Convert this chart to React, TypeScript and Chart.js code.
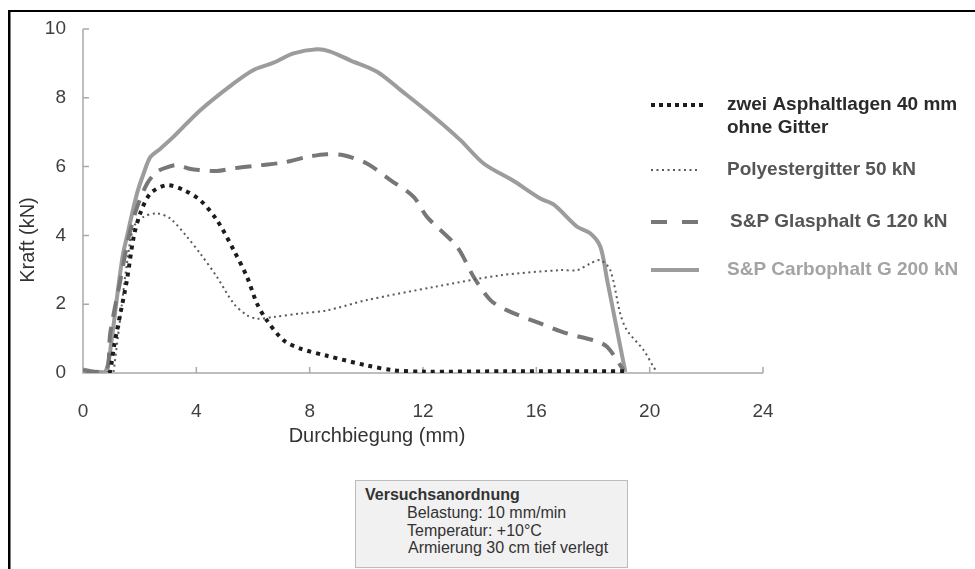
import React, { useEffect, useRef } from "react";
import { Chart, registerables } from "chart.js";

Chart.register(...registerables);

// ---- data ----
const asphaltX = [0.9, 0.96, 1.1, 1.32, 1.55, 1.79, 2.02, 2.38, 2.96, 3.55, 4.14, 4.73, 5.32, 5.79, 6.14, 6.49, 7.08, 7.67, 8.61, 10.02, 10.96, 12.0, 15.0, 19.1];
const asphaltY = [0.0, 0.05, 0.8, 1.73, 2.7, 3.96, 4.64, 5.22, 5.46, 5.32, 5.02, 4.44, 3.57, 2.79, 2.02, 1.53, 0.95, 0.71, 0.5, 0.22, 0.08, 0.04, 0.05, 0.05];

const polyX = [1.08, 1.3, 1.55, 1.79, 2.14, 2.61, 3.08, 3.67, 4.14, 4.73, 5.32, 5.79, 6.14, 6.73, 7.67, 8.61, 10.02, 12.38, 14.73, 16.85, 17.44, 17.9, 18.26, 18.61, 18.96, 19.2, 19.79, 20.14, 20.24];
const polyY = [0.03, 1.5, 3.18, 4.25, 4.54, 4.64, 4.49, 3.96, 3.47, 2.79, 2.02, 1.68, 1.58, 1.63, 1.73, 1.82, 2.12, 2.5, 2.84, 2.99, 2.99, 3.18, 3.28, 2.99, 1.73, 1.24, 0.66, 0.17, 0.06];

const glasX = [0, 0.5, 0.85, 0.96, 1.32, 1.6, 1.9, 2.26, 2.61, 2.96, 3.32, 3.8, 4.14, 4.73, 5.32, 6.26, 7.08, 7.91, 8.6, 9.2, 10.02, 10.85, 11.67, 12.14, 13.2, 13.79, 14.38, 14.97, 16.14, 17.08, 18.02, 18.5, 19.08];
const glasY = [0.08, 0.03, 0.1, 1.15, 2.7, 3.9, 4.8, 5.5, 5.85, 5.98, 6.04, 5.93, 5.9, 5.87, 5.95, 6.04, 6.12, 6.28, 6.36, 6.33, 6.09, 5.61, 5.12, 4.54, 3.67, 2.79, 2.12, 1.82, 1.44, 1.15, 0.95, 0.76, 0.08];

const carboX = [0, 0.4, 0.8, 1.0, 1.2, 1.4, 1.55, 1.9, 2.14, 2.38, 2.7, 3.2, 4.14, 5.32, 6.02, 6.73, 7.43, 8.26, 8.7, 9.43, 10.38, 11.2, 12.38, 13.32, 14.14, 15.2, 16.14, 16.61, 17.44, 17.9, 18.26, 18.5, 18.85, 19.14];
const carboY = [0.1, 0.04, 0.05, 0.9, 2.2, 3.4, 3.96, 5.2, 5.8, 6.28, 6.5, 6.87, 7.64, 8.42, 8.81, 9.02, 9.29, 9.41, 9.35, 9.09, 8.76, 8.23, 7.45, 6.77, 6.09, 5.58, 5.07, 4.9, 4.25, 4.06, 3.67, 2.7, 1.24, 0.03];

const xTicks = [0, 4, 8, 12, 16, 20, 24];
const yTicks = [0, 2, 4, 6, 8, 10];
const xTitle = "Durchbiegung (mm)";
const yTitle = "Kraft (kN)";
const legendLabels = [["zwei Asphaltlagen 40 mm", "ohne Gitter"], ["Polyestergitter 50 kN"], ["S&P Glasphalt G 120 kN"], ["S&P Carbophalt G 200 kN"]];
const boxTitle = "Versuchsanordnung";
const boxLines = ["Belastung: 10 mm/min", "Temperatur: +10°C", "Armierung 30 cm tief verlegt"];

const FONT = '"Liberation Sans", Arial, sans-serif';

function pts(xs: number[], ys: number[]) {
  return xs.map((x, i) => ({ x, y: ys[i] }));
}

const decor = {
  id: "decor",
  beforeDraw(chart: any) {
    const { ctx, width, height } = chart;
    ctx.save();
    ctx.fillStyle = "#ffffff";
    ctx.fillRect(0, 0, width, height);
    ctx.restore();
  },
  beforeDatasetsDraw(chart: any) {
    const { ctx, scales } = chart;
    const x = scales.x, y = scales.y;
    const x0 = x.getPixelForValue(0);
    const y0 = y.getPixelForValue(0);
    const xr = x.getPixelForValue(24);
    const yt = y.getPixelForValue(10);
    ctx.save();
    ctx.strokeStyle = "#a9a9a9";
    ctx.lineWidth = 1.5;
    ctx.beginPath();
    ctx.moveTo(x0, yt);
    ctx.lineTo(x0, y0);
    ctx.lineTo(xr, y0);
    ctx.stroke();
    ctx.beginPath();
    xTicks.forEach((v) => {
      if (v === 0) return;
      const px = x.getPixelForValue(v);
      ctx.moveTo(px, y0);
      ctx.lineTo(px, y0 - 6);
    });
    yTicks.forEach((v) => {
      if (v === 0) return;
      const py = y.getPixelForValue(v);
      ctx.moveTo(x0, py);
      ctx.lineTo(x0 + 6, py);
    });
    ctx.stroke();
    ctx.restore();
  },
  afterDraw(chart: any) {
    const { ctx, width, height } = chart;
    ctx.save();
    // frame
    ctx.fillStyle = "#000";
    ctx.fillRect(8, 10, width - 8, 2);
    ctx.fillRect(8, 10, 2.5, height - 10);
    // axis titles
    ctx.fillStyle = "#333";
    ctx.font = `20px ${FONT}`;
    ctx.textAlign = "center";
    ctx.textBaseline = "middle";
    ctx.fillText(xTitle, 377, 436);
    ctx.save();
    ctx.translate(28, 240);
    ctx.rotate(-Math.PI / 2);
    ctx.fillText(yTitle, 0, 0);
    ctx.restore();
    // legend
    const rows = [105, 170, 222, 270];
    const textX = [727, 727, 730, 727];
    const colors = ["#2a2a2a", "#555555", "#555555", "#a3a3a3"];
    ctx.font = `bold 19px ${FONT}`;
    ctx.textAlign = "left";
    chart.data.datasets.forEach((ds: any, i: number) => {
      const ry = rows[i];
      ctx.save();
      ctx.strokeStyle = ds.borderColor;
      ctx.lineWidth = ds.borderWidth;
      if (i === 0) ctx.setLineDash([4, 4]);
      else if (i === 1) ctx.setLineDash([2, 3.5]);
      else if (i === 2) ctx.setLineDash([16, 15]);
      else ctx.setLineDash([]);
      ctx.beginPath();
      ctx.moveTo(651, ry);
      ctx.lineTo(i === 0 ? 706 : 699, ry);
      ctx.stroke();
      ctx.restore();
      ctx.fillStyle = colors[i];
      legendLabels[i].forEach((t, k) => {
        ctx.fillText(t, textX[i], ry + k * 23);
      });
    });
    ctx.restore();
  },
};

export default function App() {
  const ref = useRef<HTMLCanvasElement>(null);
  useEffect(() => {
    if (!ref.current) return;
    const chart = new Chart(ref.current, {
      type: "line",
      data: {
        datasets: [
          {
            label: legendLabels[0].join(" "),
            data: pts(asphaltX, asphaltY),
            borderColor: "#1c1c1c",
            borderWidth: 4,
            borderDash: [4, 5],
            pointRadius: 0,
            tension: 0.3,
          },
          {
            label: legendLabels[1][0],
            data: pts(polyX, polyY),
            borderColor: "#5a5a5a",
            borderWidth: 2,
            borderDash: [2, 3.5],
            pointRadius: 0,
            tension: 0.3,
          },
          {
            label: legendLabels[2][0],
            data: pts(glasX, glasY),
            borderColor: "#777777",
            borderWidth: 4,
            borderDash: [16, 10],
            pointRadius: 0,
            tension: 0.3,
          },
          {
            label: legendLabels[3][0],
            data: pts(carboX, carboY),
            borderColor: "#9c9c9c",
            borderWidth: 4,
            pointRadius: 0,
            tension: 0.3,
          },
        ],
      } as any,
      options: {
        responsive: false,
        animation: false,
        devicePixelRatio: 1,
        layout: { padding: { left: 10, right: 212, top: 29, bottom: 116 } },
        plugins: { legend: { display: false }, tooltip: { enabled: false } },
        scales: {
          x: {
            type: "linear",
            min: 0,
            max: 24,
            grid: { display: false, drawTicks: false },
            border: { display: false },
            afterFit: (s: any) => { s.height = 80; },
            ticks: {
              stepSize: 4,
              padding: 27,
              color: "#404040",
              font: { family: FONT, size: 19 },
              maxRotation: 0,
            },
          },
          y: {
            type: "linear",
            min: 0,
            max: 10,
            grid: { display: false, drawTicks: false },
            border: { display: false },
            afterFit: (s: any) => { s.width = 73; },
            ticks: {
              stepSize: 2,
              padding: 17,
              color: "#404040",
              font: { family: FONT, size: 19 },
            },
          },
        },
      } as any,
      plugins: [decor],
    });
    return () => chart.destroy();
  }, []);

  const lineStyle = (top: number, left: number, bold = false): React.CSSProperties => ({
    position: "absolute",
    left,
    top,
    fontFamily: FONT,
    fontSize: 16,
    fontWeight: bold ? "bold" : "normal",
    color: "#333",
    whiteSpace: "nowrap",
    lineHeight: "18px",
  });

  return (
    <div style={{ position: "absolute", left: 0, top: 0, width: 975, height: 569, background: "#fff" }}>
      <canvas ref={ref} width={975} height={569} style={{ display: "block", width: 975, height: 569 }} />
      <div
        style={{
          position: "absolute",
          left: 355,
          top: 480,
          width: 273,
          height: 88,
          background: "#f1f1f1",
          border: "1px solid #bcbcbc",
          boxSizing: "border-box",
        }}
      />
      <div style={lineStyle(486, 365, true)}>{boxTitle}</div>
      <div style={lineStyle(504, 407)}>{boxLines[0]}</div>
      <div style={lineStyle(522, 407)}>{boxLines[1]}</div>
      <div style={lineStyle(539, 408)}>{boxLines[2]}</div>
    </div>
  );
}
